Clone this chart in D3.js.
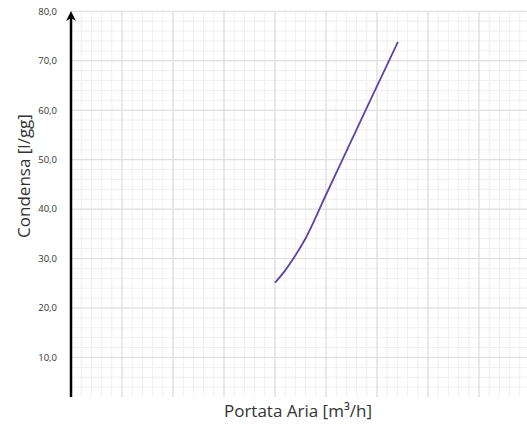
<!DOCTYPE html>
<html>
<head>
<meta charset="utf-8">
<script src="https://cdn.jsdelivr.net/npm/d3@7"></script>
<style>
  body { margin: 0; background: #fff; }
  text { font-family: "Open Sans", Lato, sans-serif; fill: #333; }
</style>
</head>
<body>
<div id="canvas"></div>
<script>
// portata aria (scala senza etichette) e condensa [l/gg]
var portata  = [4.00, 4.20, 4.36, 4.59, 5.00, 5.44, 5.90, 6.41];
var condensa = [25.1, 27.6, 30.0, 33.9, 42.9, 52.6, 62.7, 73.8];
var yTicks  = [10, 20, 30, 40, 50, 60, 70, 80];
var yLabels = ["10,0", "20,0", "30,0", "40,0", "50,0", "60,0", "70,0", "80,0"];

var w = 527, h = 426;
var svg = d3.select("#canvas").append("svg").attr("width", w).attr("height", h);

var x = d3.scaleLinear().domain([0, 9]).range([71, 530]);
var y = d3.scaleLinear().domain([2, 80]).range([397, 11.3]);

var grid = svg.append("g").attr("name", "grid");

// griglia minore
grid.selectAll("line.vminor").data(d3.range(0.2, 9, 0.2)).enter().append("line")
    .attr("x1", d => x(d)).attr("x2", d => x(d))
    .attr("y1", y(2)).attr("y2", y(80))
    .attr("stroke", "#f0f0f0").attr("stroke-width", 1);
grid.selectAll("line.hminor").data(d3.range(4, 80, 2)).enter().append("line")
    .attr("x1", x(0)).attr("x2", w)
    .attr("y1", d => y(d)).attr("y2", d => y(d))
    .attr("stroke", "#f0f0f0").attr("stroke-width", 1);

// griglia principale
grid.selectAll("line.vmajor").data(d3.range(1, 9, 1)).enter().append("line")
    .attr("x1", d => x(d)).attr("x2", d => x(d))
    .attr("y1", y(2)).attr("y2", y(80))
    .attr("stroke", "#d9d9d9").attr("stroke-width", 1);
grid.selectAll("line.hmajor").data(yTicks).enter().append("line")
    .attr("x1", x(0)).attr("x2", w)
    .attr("y1", d => y(d)).attr("y2", d => y(d))
    .attr("stroke", "#dcdcdc").attr("stroke-width", 1);

// etichette asse y
svg.append("g").selectAll("text").data(yTicks).enter().append("text")
    .attr("x", 57).attr("y", d => y(d)).attr("dy", "0.35em")
    .attr("text-anchor", "end")
    .style("font-size", "9.5px")
    .text((d, i) => yLabels[i]);

// curva
var line = d3.line().x((d, i) => x(portata[i])).y(d => y(d)).curve(d3.curveMonotoneX);
svg.append("path")
    .attr("d", line(condensa))
    .attr("fill", "none")
    .attr("stroke", "#5d45a6")
    .attr("stroke-width", 1.8);

// asse y con freccia
svg.append("defs").append("marker")
    .attr("id", "arrow").attr("viewBox", "0 0 10 10")
    .attr("refX", 5).attr("refY", 5)
    .attr("markerWidth", 4).attr("markerHeight", 4)
    .attr("orient", "auto")
  .append("path").attr("d", "M0,0 L10,5 L0,10 L3,5 Z").attr("fill", "#000");
svg.append("line")
    .attr("x1", x(0)).attr("x2", x(0))
    .attr("y1", y(2)).attr("y2", 16)
    .attr("stroke", "#000").attr("stroke-width", 2.5)
    .attr("marker-end", "url(#arrow)");

// titoli
svg.append("text")
    .attr("x", 298).attr("y", 417)
    .attr("text-anchor", "middle")
    .style("font-size", "17px")
    .text("Portata Aria [m³/h]");
svg.append("text")
    .attr("transform", "translate(30,176) rotate(-90)")
    .attr("text-anchor", "middle")
    .style("font-size", "17px")
    .text("Condensa [l/gg]");
</script>
</body>
</html>
